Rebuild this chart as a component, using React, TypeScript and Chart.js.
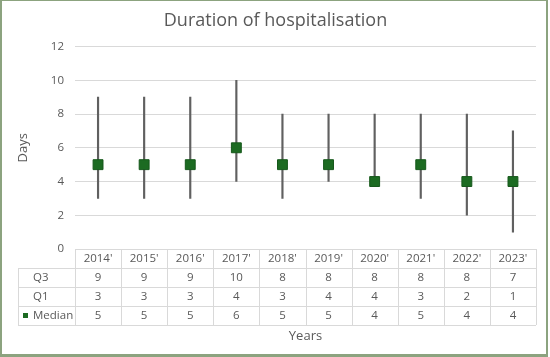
import React, { useEffect, useRef } from "react";
import { Chart, registerables } from "chart.js";

Chart.register(...registerables);

const categories = ["2014'", "2015'", "2016'", "2017'", "2018'", "2019'", "2020'", "2021'", "2022'", "2023'"];
const q3 = [9, 9, 9, 10, 8, 8, 8, 8, 8, 7];
const q1 = [3, 3, 3, 4, 3, 4, 4, 3, 2, 1];
const median = [5, 5, 5, 6, 5, 5, 4, 5, 4, 4];
const yTicks = [0, 2, 4, 6, 8, 10, 12];

const FONT = "'Open Sans', 'Noto Sans', sans-serif";
const TEXT = "#595959";
const GREEN = "#1c6b22";

const tablePlugin = {
  id: "dataTable",
  afterDraw(chart: any) {
    const { ctx, chartArea, scales } = chart;
    const x = scales.x;
    const n = categories.length;
    const step = (chartArea.right - chartArea.left) / n;
    const left = chartArea.left;
    const right = chartArea.right;
    const top = chartArea.bottom;
    const rowH = 19;
    const labelLeft = 18;
    ctx.save();
    ctx.strokeStyle = "#d9d9d9";
    ctx.lineWidth = 1;
    ctx.beginPath();
    ctx.moveTo(left, top + 0.5);
    ctx.lineTo(right, top + 0.5);
    for (let r = 1; r <= 4; r++) {
      const y = Math.round(top + r * rowH) + 0.5;
      ctx.moveTo(labelLeft, y);
      ctx.lineTo(right, y);
    }
    for (let i = 0; i <= n; i++) {
      const xv = Math.round(x.getPixelForValue(i) - step / 2) + 0.5;
      ctx.moveTo(xv, top);
      ctx.lineTo(xv, top + 4 * rowH);
    }
    ctx.moveTo(labelLeft + 0.5, top + rowH);
    ctx.lineTo(labelLeft + 0.5, top + 4 * rowH);
    ctx.stroke();

    ctx.fillStyle = TEXT;
    ctx.font = `11.5px ${FONT}`;
    ctx.textBaseline = "middle";
    ctx.textAlign = "center";
    const rows = [q3, q1, median];
    for (let i = 0; i < n; i++) {
      const cx = x.getPixelForValue(i);
      ctx.fillText(categories[i], cx, top + rowH / 2 + 0.5);
      rows.forEach((arr, r) => {
        ctx.fillText(String(arr[i]), cx, top + (r + 1) * rowH + rowH / 2 + 0.5);
      });
    }
    ctx.textAlign = "left";
    const labels = ["Q3", "Q1", "Median"];
    labels.forEach((l, r) => {
      ctx.fillText(l, 33, top + (r + 1) * rowH + rowH / 2 + 0.5);
    });
    ctx.fillStyle = GREEN;
    ctx.fillRect(23, top + 3 * rowH + rowH / 2 - 2.5, 5, 5);

    ctx.fillStyle = TEXT;
    ctx.textAlign = "center";
    ctx.font = `13px ${FONT}`;
    ctx.fillText("Years", (left + right) / 2, top + 4 * rowH + 11);
    ctx.restore();
  },
};

export default function App() {
  const ref = useRef<HTMLCanvasElement | null>(null);
  useEffect(() => {
    document.body.style.margin = "0";
    const chart = new Chart(ref.current as HTMLCanvasElement, {
      type: "bar",
      data: {
        labels: categories,
        datasets: [
          {
            type: "line",
            label: "Median",
            data: median,
            showLine: false,
            pointStyle: "rect",
            pointRadius: 7,
            backgroundColor: GREEN,
            borderColor: "#16581b",
            borderWidth: 1,
            order: 0,
          } as any,
          {
            type: "bar",
            label: "Range",
            data: q1.map((v, i) => [v, q3[i]]),
            backgroundColor: "#606060",
            barThickness: 1.5,
            order: 1,
          } as any,
        ],
      },
      options: {
        animation: false,
        responsive: false,
        layout: { padding: { left: 15, right: 14, top: 0, bottom: 108 } },
        plugins: {
          legend: { display: false },
          tooltip: { enabled: false },
          title: {
            display: true,
            text: "Duration of hospitalisation",
            color: TEXT,
            font: { family: FONT, size: 18, weight: "normal" },
            padding: { top: 10, bottom: 15 },
          },
        },
        scales: {
          x: { display: false, offset: true },
          y: {
            min: 0,
            max: 12,
            afterBuildTicks: (s: any) => {
              s.ticks = yTicks.map((v) => ({ value: v }));
            },
            afterFit: (s: any) => {
              s.width = 60;
            },
            grid: { color: "#d9d9d9", tickColor: "transparent", tickLength: 8 },
            border: { display: false },
            ticks: { color: TEXT, font: { family: FONT, size: 11.5 }, padding: 3 },
            title: {
              display: true,
              text: "Days",
              color: TEXT,
              font: { family: FONT, size: 13 },
              padding: { top: 0, bottom: 0 },
            },
          },
        },
      },
      plugins: [tablePlugin],
    } as any);
    return () => chart.destroy();
  }, []);
  return (
    <div style={{ position: "relative", width: 550, height: 357, background: "#fff" }}>
      <canvas ref={ref} width={550} height={357} style={{ display: "block" }} />
      <div
        style={{
          position: "absolute",
          left: 0,
          top: 0,
          width: 548,
          height: 357,
          boxSizing: "border-box",
          borderStyle: "solid",
          borderColor: "#8ca37f",
          borderWidth: "1px 2px 3px 2px",
          pointerEvents: "none",
        }}
      />
    </div>
  );
}
